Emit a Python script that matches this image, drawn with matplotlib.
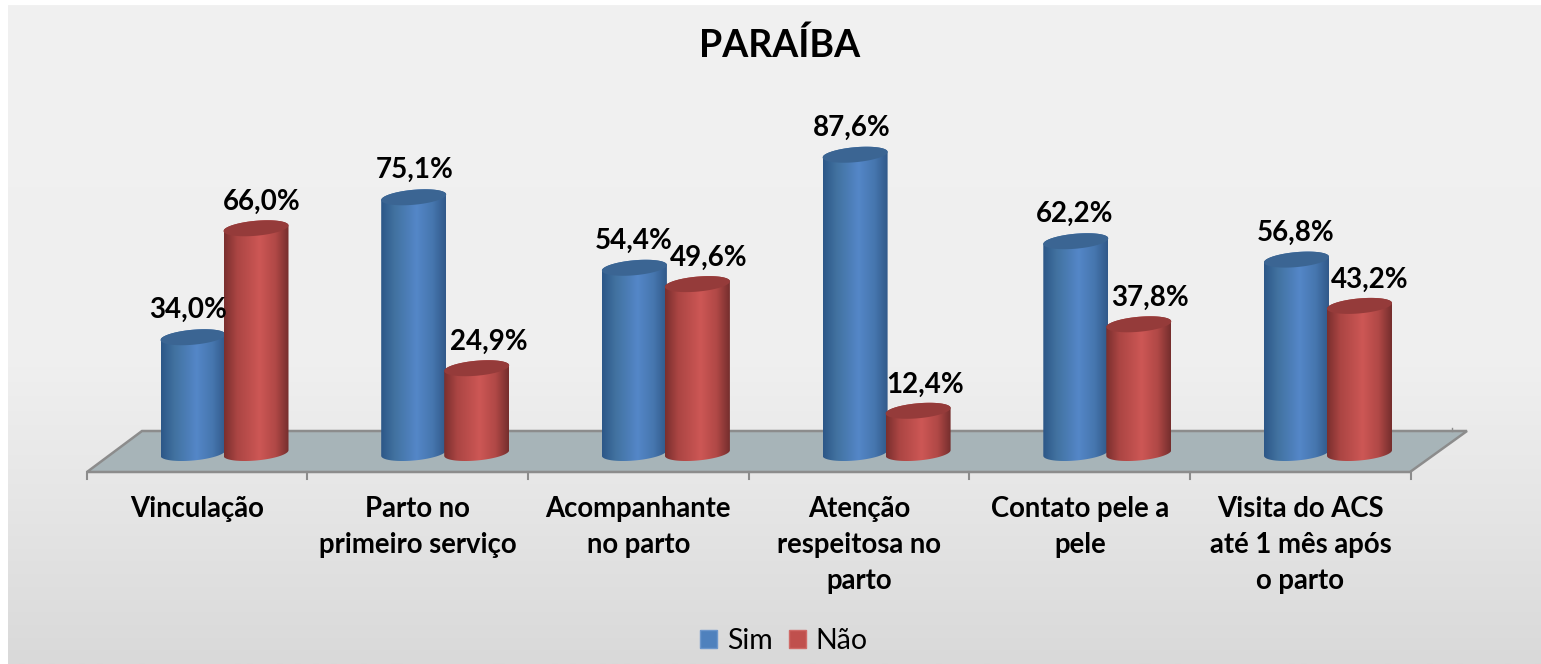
import matplotlib
matplotlib.use('Agg')
import matplotlib.pyplot as plt
import numpy as np
from matplotlib.colors import LinearSegmentedColormap
from matplotlib.patches import PathPatch, Patch, Polygon
from matplotlib.path import Path

plt.rcParams['font.family'] = ['Lato', 'DejaVu Sans']

categories = ['Vinculação', 'Parto no\nprimeiro serviço', 'Acompanhante\nno parto',
              'Atenção\nrespeitosa no\nparto', 'Contato pele a\npele',
              'Visita do ACS\naté 1 mês após\no parto']
sim = [34.0, 75.1, 54.4, 87.6, 62.2, 56.8]
nao = [66.0, 24.9, 49.6, 12.4, 37.8, 43.2]

W, H = 1541, 664
# escala dos eixos: pixels por categoria / por ponto percentual
PX_CAT = 220.7
PX_VAL = 3.405
X0 = 224.5
Y0 = 453


def px_x(px):
    return (px - X0) / PX_CAT


def px_y(px):
    return (Y0 - px) / PX_VAL


cmap_blue = LinearSegmentedColormap.from_list('b', [(0, '#2c5788'), (0.2, '#41719f'), (0.55, '#5487c8'),
                                                    (0.8, '#4676ae'), (1, '#31598a')])
cmap_red = LinearSegmentedColormap.from_list('r', [(0, '#7a2f2e'), (0.2, '#ab4543'), (0.55, '#cd5755'),
                                                   (0.8, '#b04846'), (1, '#752e2d')])


def draw_cylinder(ax, xc, value, cmap, cap_color):
    """
    Cilindro com elipses inclinadas, gradiente horizontal recortado pelo contorno.
    """
    a = 32.5 / PX_CAT
    b = 7.5 / PX_VAL
    tilt = 2.8 / PX_VAL
    t = np.linspace(np.pi, 2 * np.pi, 40)
    # metade de baixo da base, depois sobe e volta pelo topo
    bx = xc + a * np.cos(t)
    by = b * np.sin(t) + tilt * np.cos(t)
    t2 = np.linspace(0, np.pi, 40)
    tx = xc + a * np.cos(t2)
    ty = value + b * np.sin(t2) + tilt * np.cos(t2)
    pts = np.column_stack([np.r_[bx, tx], np.r_[by, ty]])
    clip = PathPatch(Path(np.vstack([pts, pts[0]])), transform=ax.transData, fc='none', ec='none')
    ax.add_patch(clip)
    grad = np.linspace(0, 1, 128).reshape(1, -1)
    im = ax.imshow(grad, cmap=cmap, aspect='auto', zorder=3,
                   extent=(xc - a, xc + a, -b - tilt, value + b + tilt))
    im.set_clip_path(clip)
    # tampa
    t3 = np.linspace(0, 2 * np.pi, 80)
    ax.add_patch(Polygon(np.column_stack([xc + a * np.cos(t3), value + b * np.sin(t3) + tilt * np.cos(t3)]),
                         fc=cap_color, ec='none', zorder=3))


fig = plt.figure(figsize=(W / 100, H / 100), dpi=100, facecolor='white')

# fundo com gradiente
bg = fig.add_axes([8 / W, 0, 1 - 8 / W, 1 - 5 / H])
bg.axis('off')
bg_cmap = LinearSegmentedColormap.from_list('bg', [(0, '#f1f1f1'), (0.55, '#efefef'), (0.75, '#e6e6e6'),
                                                   (1, '#d9d9d9')])
bg.imshow(np.linspace(0, 1, 256).reshape(-1, 1), cmap=bg_cmap, aspect='auto')

ax = fig.add_axes([0, 0, 1, 1])
ax.axis('off')
ax.patch.set_alpha(0)

# piso
floor = [(px_x(87), px_y(472)), (px_x(1410), px_y(472)), (px_x(1467), px_y(431)), (px_x(142), px_y(431))]
ax.add_patch(Polygon(floor, closed=True, fc='#a7b4b8', ec='#8c8c8c', lw=1.8, zorder=1))
for i in range(len(categories) + 1):
    tx = px_x(86.5) + i
    ax.plot([tx, tx], [px_y(472), px_y(479)], color='#8c8c8c', lw=1.5, zorder=1)
ax.plot([px_x(1452), px_x(1452)], [px_y(431), px_y(428)], color='#8c8c8c', lw=1, zorder=1)

bar_dx = 31.5 / PX_CAT
sim_label_dx = [-5, 1, -1, -3, -1, -1]
red_label_dx = [6, 12, 11, 7, 11, 10]
for i in range(len(categories)):
    draw_cylinder(ax, i - bar_dx, sim[i], cmap_blue, '#3b6593')
    draw_cylinder(ax, i + bar_dx, nao[i], cmap_red, '#953b3a')
    ax.text(i - bar_dx + sim_label_dx[i] / PX_CAT, sim[i] + 27 / PX_VAL, f'{sim[i]:.1f}%'.replace('.', ','),
            ha='center', va='center', fontsize=20, fontweight='bold', color='black', zorder=5)
    ax.text(i + bar_dx + red_label_dx[i] / PX_CAT, nao[i] + 26 / PX_VAL, f'{nao[i]:.1f}%'.replace('.', ','),
            ha='center', va='center', fontsize=20, fontweight='bold', color='black', zorder=5)
    ax.text(px_x(197) + i, px_y(496), categories[i], ha='center', va='top', fontsize=19.8,
            fontweight='bold', color='black', linespacing=1.48, zorder=5)

ax.text(px_x(780), px_y(45), 'PARAÍBA', ha='center', va='center', fontsize=27, fontweight='bold', color='black')

handles = [Patch(fc='#4f81bd', ec='#6d97cc', label='Sim'), Patch(fc='#c0504d', ec='#d06a67', label='Não')]
fig.legend(handles=handles, loc='center', bbox_to_anchor=(784 / W, 1 - 641 / H), ncol=2, frameon=False,
           fontsize=20.5, handlelength=0.6, handleheight=0.6, handletextpad=0.35, columnspacing=0.55)

ax.set_xlim(px_x(0), px_x(W))
ax.set_ylim(px_y(H), px_y(0))

fig.savefig('out.png', dpi=100)
